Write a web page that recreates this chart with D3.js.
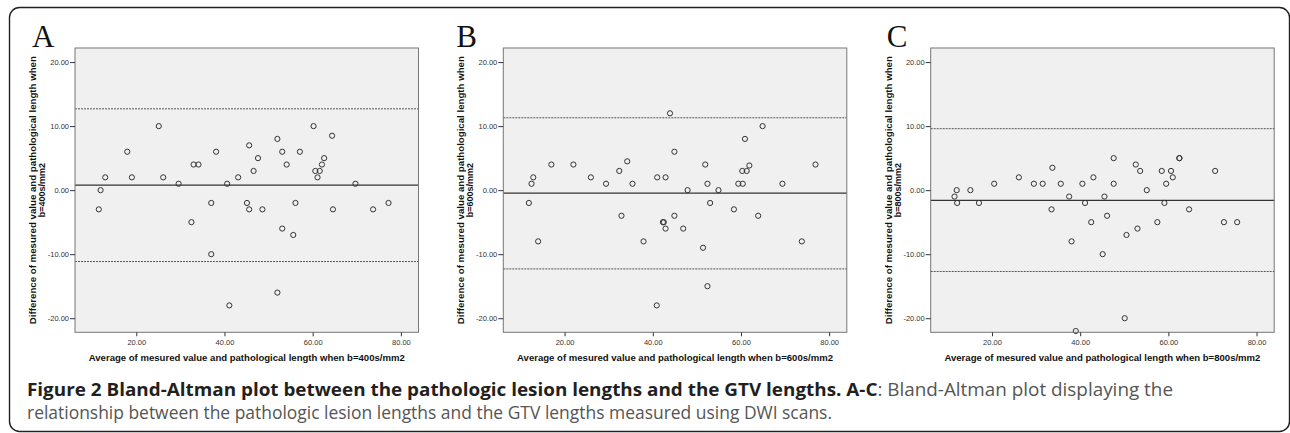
<!DOCTYPE html>
<html>
<head>
<meta charset="utf-8">
<script src="https://cdn.jsdelivr.net/npm/d3@7"></script>
<style>
  body { margin: 0; background: #fff; }
  .tick text { font-family: Arial, "Liberation Sans", sans-serif; font-size: 7.5px; fill: #333; }
  .tick line { stroke: #333; }
  .axtitle { font-family: Arial, "Liberation Sans", sans-serif; font-size: 9px; font-weight: bold; fill: #111; }
</style>
</head>
<body>
<div id="chart"></div>
<script>
// Values
var panels = ["A", "B", "C"];
var bValues = ["400", "600", "800"];

var avgA  = [11.5, 11.9, 12.95, 17.95, 19.0, 25.1, 26.1, 29.6, 32.5, 33.0, 34.1, 37.0, 37.0, 38.1, 40.6, 41.1, 43.1, 45.1, 45.6, 45.6, 46.6,
             47.6, 48.6, 52.0, 52.0, 53.1, 53.1, 54.1, 55.6, 56.1, 57.1, 60.2, 60.6, 61.1, 61.6, 62.1, 62.6, 64.4, 64.6, 69.7, 73.7, 77.2];
var diffA = [-3, 0, 2, 6, 2, 10, 2, 1, -5, 4, 4, -2, -10, 6, 1, -18, 2, -2, 7, -3, 3,
             5, -3, 8, -16, 6, -6, 4, -7, -2, 6, 10, 3, 2, 3, 4, 5, 8.5, -3, 1, -3, -2];

var avgB  = [11.9, 12.5, 12.9, 14.0, 17.0, 22.0, 25.96, 29.4, 32.4, 32.9, 34.2, 35.4, 37.9, 40.9, 41.0, 42.3, 42.5, 42.9, 42.9, 43.9, 44.9,
             44.9, 46.9, 47.9, 51.4, 51.9, 52.4, 52.4, 53.0, 54.9, 58.4, 59.4, 60.3, 60.4, 60.9, 61.3, 61.9, 63.9, 64.9, 69.4, 73.8, 76.9];
var diffB = [-2, 1, 2, -8, 4, 4, 2, 1, 3, -4, 4.5, 1, -8, -18, 2, -5, -5, 2, -6, 12, 6,
             -4, -6, 0, -9, 4, 1, -15, -2, 0, -3, 1, 3, 1, 8, 3, 3.85, -4, 10, 1, -8, 4];

var avgC  = [11.5, 12.0, 12.1, 15.1, 17.05, 20.5, 26.1, 29.5, 31.5, 33.5, 33.7, 35.6, 37.5, 38.05, 39.0, 40.5, 41.1, 42.5, 43.0, 45.1, 45.5,
             46.1, 47.6, 47.6, 50.1, 50.5, 52.6, 53.0, 53.6, 55.1, 57.5, 58.5, 59.1, 59.5, 60.6, 61.0, 62.5, 62.5, 64.7, 70.6, 72.6, 75.6];
var diffC = [-1, 0, -2, 0, -2, 1, 2, 1, 1, -3, 3.5, 1, -1, -8, -22, 1, -2, -5, 2, -10, -1,
             -4, 5, 1, -20, -7, 4, -6, 3, 0, -5, 3, -2, 1, 3, 2, 5, 5, -3, 3, -5, -5];

// mean difference and limits of agreement (drawn lines)
var meanDiff = [0.78, -0.47, -1.6];
var upperLoA = [12.7, 11.3, 9.6];
var lowerLoA = [-11.15, -12.3, -12.7];

var xTicks = [20, 40, 60, 80];
var yTicks = [-20, -10, 0, 10, 20];

var captionBold = "Figure 2 Bland-Altman plot between the pathologic lesion lengths and the GTV lengths. A-C";
var captionRest1 = ": Bland-Altman plot displaying the";
var captionLine2 = "relationship between the pathologic lesion lengths and the GTV lengths measured using DWI scans.";

var allAvg = [avgA, avgB, avgC];
var allDiff = [diffA, diffB, diffC];

// Layout
var W = 1290, H = 433;
var panelLeft = [75, 503.3, 930.7];
var plotW = 343.5, plotTop = 48, plotBottom = 332.3;

var svg = d3.select("#chart").append("svg")
    .attr("width", W)
    .attr("height", H);

// outer frame
svg.append("rect")
    .attr("x", 9.5).attr("y", 7.5)
    .attr("width", 1280).attr("height", 424)
    .attr("rx", 10).attr("ry", 10)
    .attr("fill", "none")
    .attr("stroke", "#222")
    .attr("stroke-width", 1.4);

var x = d3.scaleLinear().domain([6.1, 84.0]).range([0, plotW]);
var y = d3.scaleLinear().domain([-22.2, 22.2]).range([plotBottom - plotTop, 0]);
var ph = plotBottom - plotTop;

panels.forEach(function(letter, p) {
    var g = svg.append("g")
        .attr("transform", "translate(" + panelLeft[p] + "," + plotTop + ")");

    // panel letter
    svg.append("text")
        .attr("x", panelLeft[p] - 43 + (p == 0 ? 0 : (p == 1 ? -4 : -1)))
        .attr("y", 47)
        .attr("font-family", "'Liberation Serif', 'Times New Roman', serif")
        .attr("font-size", 31)
        .attr("fill", "#111")
        .text(letter);

    g.append("rect")
        .attr("width", plotW)
        .attr("height", ph)
        .attr("fill", "#f0f0f0");

    // limits of agreement
    [upperLoA[p], lowerLoA[p]].forEach(function(v) {
        g.append("line")
            .attr("x1", 0).attr("x2", plotW)
            .attr("y1", y(v)).attr("y2", y(v))
            .attr("stroke", "#555")
            .attr("stroke-width", 1)
            .attr("stroke-dasharray", "2,1");
    });

    // mean difference
    g.append("line")
        .attr("x1", 0).attr("x2", plotW)
        .attr("y1", y(meanDiff[p])).attr("y2", y(meanDiff[p]))
        .attr("stroke", "#333")
        .attr("stroke-width", 1.1);

    var pts = allAvg[p].map(function(a, i) { return {avg: a, diff: allDiff[p][i]}; });

    g.selectAll(".pt")
        .data(pts)
        .enter().append("circle")
        .attr("class", "pt")
        .attr("cx", function(d) { return x(d.avg); })
        .attr("cy", function(d) { return y(d.diff); })
        .attr("r", 2.6)
        .attr("fill", "none")
        .attr("stroke", "#333")
        .attr("stroke-width", 1);

    g.append("rect")
        .attr("width", plotW)
        .attr("height", ph)
        .attr("fill", "none")
        .attr("stroke", "#777")
        .attr("stroke-width", 1);

    var yAxis = g.append("g")
        .call(d3.axisLeft(y).tickValues(yTicks).tickSize(5).tickPadding(1)
            .tickFormat(function(d) { return d.toFixed(2); }));
    yAxis.select(".domain").remove();

    var xAxis = g.append("g")
        .attr("transform", "translate(0," + ph + ")")
        .call(d3.axisBottom(x).tickValues(xTicks).tickSize(4).tickPadding(3)
            .tickFormat(function(d) { return d.toFixed(2); }));
    xAxis.select(".domain").remove();

    // x title
    svg.append("text")
        .attr("class", "axtitle")
        .attr("x", panelLeft[p] + plotW / 2)
        .attr("y", 361)
        .attr("text-anchor", "middle")
        .attr("textLength", 316)
        .attr("lengthAdjust", "spacingAndGlyphs")
        .text("Average of mesured value and pathological length when b=" + bValues[p] + "s/mm2");

    // y title (two lines)
    var cy = plotTop + ph / 2;
    svg.append("text")
        .attr("class", "axtitle")
        .attr("transform", "translate(" + (panelLeft[p] - 42) + "," + cy + ") rotate(-90)")
        .attr("text-anchor", "middle")
        .attr("dy", "0.35em")
        .attr("textLength", 268)
        .attr("lengthAdjust", "spacingAndGlyphs")
        .text("Difference of mesured value and pathological length when");
    svg.append("text")
        .attr("class", "axtitle")
        .attr("transform", "translate(" + (panelLeft[p] - 33) + "," + cy + ") rotate(-90)")
        .attr("text-anchor", "middle")
        .attr("dy", "0.35em")
        .text("b=" + bValues[p] + "s/mm2");
});

// caption
var cap1 = svg.append("text")
    .attr("x", 27).attr("y", 396)
    .attr("font-family", "'Open Sans', sans-serif")
    .attr("font-size", 18.5)
    .attr("textLength", 1146)
    .attr("lengthAdjust", "spacingAndGlyphs");
cap1.append("tspan").attr("font-weight", "bold").attr("fill", "#231f20").text(captionBold);
cap1.append("tspan").attr("fill", "#555").text(captionRest1);

svg.append("text")
    .attr("x", 27).attr("y", 419)
    .attr("font-family", "'Open Sans', sans-serif")
    .attr("font-size", 18.5)
    .attr("fill", "#555")
    .attr("textLength", 805)
    .attr("lengthAdjust", "spacingAndGlyphs")
    .text(captionLine2);
</script>
</body>
</html>
